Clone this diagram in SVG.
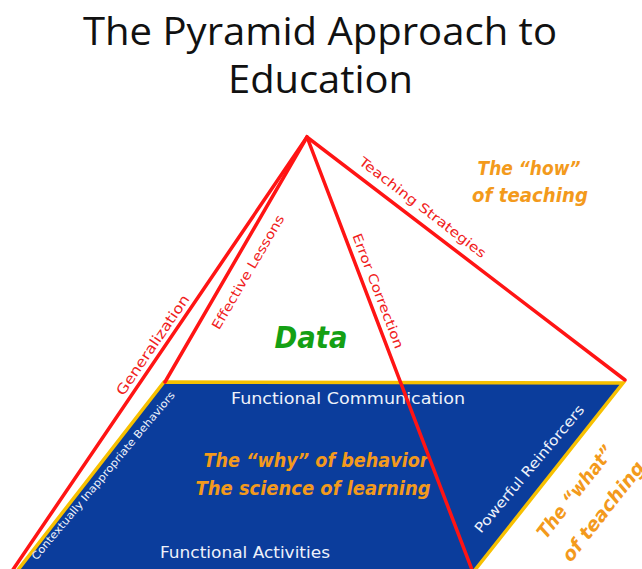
<svg xmlns="http://www.w3.org/2000/svg" width="642" height="569" viewBox="0 0 642 569">
<style>
.title{font-family:"Open Sans","Liberation Sans",sans-serif;font-size:38px;fill:#111;text-anchor:middle}
.red{font-family:"DejaVu Sans","Liberation Sans",sans-serif;font-size:13px;fill:#f02020}
.wht{font-family:"DejaVu Sans","Liberation Sans",sans-serif;font-size:15px;fill:#eef2fa}
.org{font-family:"DejaVu Sans","Liberation Sans",sans-serif;font-size:19px;font-weight:bold;font-style:italic;fill:#f39a1c}
.grn{font-family:"DejaVu Sans","Liberation Sans",sans-serif;font-size:31px;font-weight:bold;font-style:italic;fill:#14a014}
.rl{stroke:#ff1414;stroke-width:3.5;fill:none;stroke-linecap:round;stroke-linejoin:miter}
</style>
<rect width="642" height="569" fill="#ffffff"/>
<g id="title">
<text class="title" x="320" y="45" textLength="474" lengthAdjust="spacingAndGlyphs">The Pyramid Approach to</text>
<text class="title" x="320.5" y="93" textLength="185" lengthAdjust="spacingAndGlyphs">Education</text>
</g>
<g id="base">
<polygon points="164,382 623,383 471,575 14,575" fill="#0b3d9c" stroke="#f7c000" stroke-width="3.5" stroke-linejoin="miter"/>
<text class="wht" x="348" y="404" text-anchor="middle" textLength="234" lengthAdjust="spacingAndGlyphs">Functional Communication</text>
<text class="org" x="316" y="467" text-anchor="middle" textLength="225" lengthAdjust="spacingAndGlyphs">The “why” of behavior</text>
<text class="org" x="313" y="495" text-anchor="middle" textLength="235" lengthAdjust="spacingAndGlyphs">The science of learning</text>
<text class="wht" x="245" y="558" text-anchor="middle" textLength="170" lengthAdjust="spacingAndGlyphs">Functional Activities</text>
<text class="wht" style="font-size:10.5px" transform="translate(106,478) rotate(-50)" text-anchor="middle" textLength="216" lengthAdjust="spacingAndGlyphs">Contextually Inappropriate Behaviors</text>
<text class="wht" style="font-size:14px" transform="translate(533,472) rotate(-50)" text-anchor="middle" textLength="162" lengthAdjust="spacingAndGlyphs">Powerful Reinforcers</text>
</g>
<g id="connectors">
<path class="rl" d="M10,574 L307,137 L625,380"/>
<path class="rl" d="M165,382 L307,137"/>
<path class="rl" d="M307,137 L474,575"/>
</g>
<g id="edge-labels">
<text class="red" style="font-size:14px" transform="translate(156.8,347.7) rotate(-55.7)" text-anchor="middle" textLength="118" lengthAdjust="spacingAndGlyphs">Generalization</text>
<text class="red" transform="translate(251.9,274.3) rotate(-59.7)" text-anchor="middle" textLength="130" lengthAdjust="spacingAndGlyphs">Effective Lessons</text>
<text class="red" transform="translate(373.8,292.6) rotate(69.2)" text-anchor="middle" textLength="122" lengthAdjust="spacingAndGlyphs">Error Correction</text>
<text class="red" transform="translate(420,211) rotate(37.5)" text-anchor="middle" textLength="156" lengthAdjust="spacingAndGlyphs">Teaching Strategies</text>
</g>
<g id="data">
<text class="grn" x="311" y="348" text-anchor="middle" textLength="73" lengthAdjust="spacingAndGlyphs">Data</text>
</g>
<g id="how">
<text class="org" x="529" y="175" text-anchor="middle" textLength="103" lengthAdjust="spacingAndGlyphs">The “how”</text>
<text class="org" x="530" y="202" text-anchor="middle" textLength="116" lengthAdjust="spacingAndGlyphs">of teaching</text>
</g>
<g id="what">
<text class="org" transform="translate(546,540) rotate(-52)" textLength="112" lengthAdjust="spacingAndGlyphs">The “what”</text>
<text class="org" transform="translate(571,563) rotate(-52)">of teaching</text>
</g>
</svg>
